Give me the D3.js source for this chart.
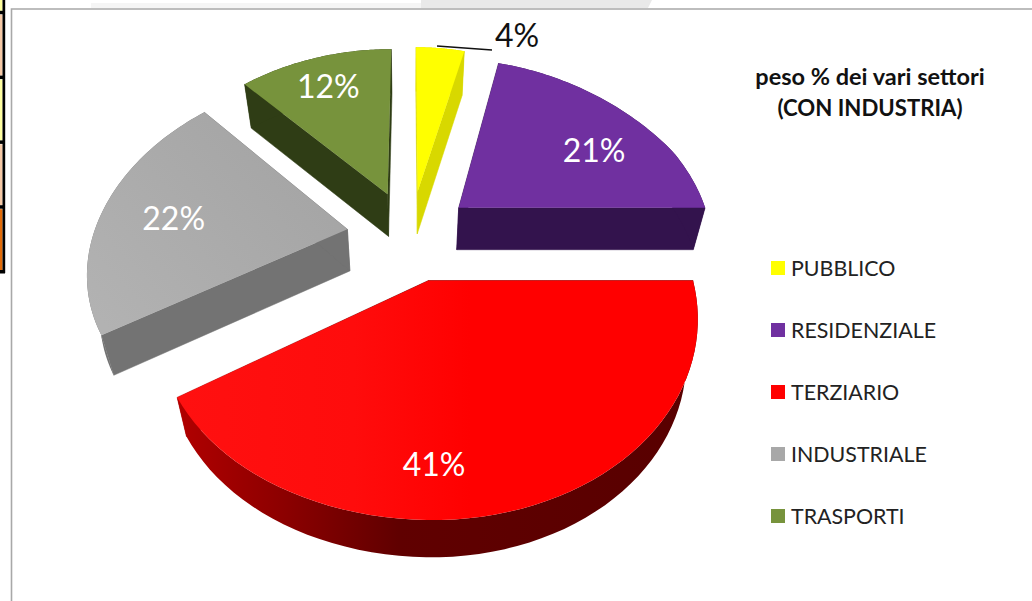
<!DOCTYPE html>
<html><head><meta charset="utf-8">
<script src="https://cdn.jsdelivr.net/npm/d3@7/dist/d3.min.js"></script>
<style>html,body{margin:0;padding:0;background:#fff;overflow:hidden}svg{display:block}text{font-family:Lato,"Open Sans",sans-serif}</style>
</head><body><svg id="c" width="1032" height="601"></svg>
<script>
const categories=["PUBBLICO","RESIDENZIALE","TERZIARIO","INDUSTRIALE","TRASPORTI"];
const values=[4,21,41,22,12];
const topColors=["#ffff00","#7030a0","#ff0000","#a8a8a8","#77933c"];
const wallColors=["#d8d800","#33134d","url(#redWall)","#737373","#2f3d15"];
const titleLines=["peso % dei vari settori","(CON INDUSTRIA)"];
const sideCells=["#ffff9c","#f6c9a6","#ffffa0","#f6c9a6","#e36c09"];

const svg=d3.select("#c");
const defs=svg.append("defs");
const g1=defs.append("linearGradient").attr("id","redWall").attr("gradientUnits","userSpaceOnUse").attr("x1",180).attr("x2",700).attr("y1",0).attr("y2",0);
[[0,"#b00000"],[.2,"#8c0000"],[.42,"#600000"],[1,"#580000"]].forEach(s=>g1.append("stop").attr("offset",s[0]).attr("stop-color",s[1]));
const g2=defs.append("linearGradient").attr("id","redTop").attr("gradientUnits","userSpaceOnUse").attr("x1",180).attr("x2",470).attr("y1",0).attr("y2",0);
[[0,"#ff1010"],[.6,"#ff0c0c"],[1,"#ff0000"]].forEach(s=>g2.append("stop").attr("offset",s[0]).attr("stop-color",s[1]));
const g3=defs.append("linearGradient").attr("id","grayTop").attr("gradientUnits","userSpaceOnUse").attr("x1",100).attr("y1",320).attr("x2",300).attr("y2",130);
[[0,"#b2b2b2"],[1,"#a4a4a4"]].forEach(s=>g3.append("stop").attr("offset",s[0]).attr("stop-color",s[1]));
const topFill=["#ffff00","#7030a0","url(#redTop)","url(#grayTop)","#77933c"];

// frame + stray bits of the neighbouring screenshot
svg.append("rect").attr("x",91).attr("y",3).attr("width",330).attr("height",5).attr("fill","#f5f5f5");
svg.append("path").attr("d","M421 0H652L648 8H421Z").attr("fill","#e9e9e9");
svg.append("path").attr("d","M11.5 601V9H1032").attr("fill","none").attr("stroke","#a8a8a8").attr("stroke-width",1.6);
const cellY=d3.scaleLinear().domain([0,5]).range([-52,272]);
sideCells.forEach((c,i)=>{
  const y0=i==0?0:cellY(i)+2, y1=cellY(i+1)-2;
  svg.append("rect").attr("x",0).attr("y",y0).attr("width",2.5).attr("height",y1-y0).attr("fill",c);
  svg.append("rect").attr("x",0).attr("y",y1).attr("width",5).attr("height",3.5).attr("fill","#000");
});
svg.append("rect").attr("x",2.5).attr("y",0).attr("width",2.7).attr("height",273).attr("fill","#000");

// perspective projection of the pie plane
const cx=410, cy=235, a=254, b=182, ky=.168, kx=.2, e=.25;
const skew=(u,v)=>u<=0?1:(v<0?1+.035*v:(v>.5?1-.07*(v-.5):1));
const project=(u,v)=>[cx+a*u*skew(u,v)/(1+kx*v), cy-b*v/(1+ky*v)];
const drop=p=>[cx+(p[0]-cx)*.96, cy+(p[1]-cy)*.985+41.5];

const arcs=d3.pie().sort(null).value(d=>d).startAngle(0).endAngle(2*Math.PI)(values);
const order=[0,4,1,3,2];
const line=d3.line();
order.forEach(i=>{
  const d=arcs[i], mid=(d.startAngle+d.endAngle)/2;
  const ou=e*Math.sin(mid), ov=e*Math.cos(mid);
  const rim=d3.range(0,61).map(j=>{const t=d.startAngle+(d.endAngle-d.startAngle)*j/60;return project(ou+Math.sin(t),ov+Math.cos(t));});
  const apex=project(ou,ov);
  const outline=[apex,...rim];
  const g=svg.append("g").attr("class","slice");
  const wall=(p,q)=>line([p,q,drop(q),drop(p)])+"Z";
  g.append("path").attr("d",wall(apex,rim[0])).attr("fill",wallColors[i]).attr("stroke",wallColors[i]).attr("stroke-width",.5);
  g.append("path").attr("d",wall(apex,rim[60])).attr("fill",wallColors[i]).attr("stroke",wallColors[i]).attr("stroke-width",.5);
  g.append("path").attr("d",line([...rim,...rim.map(drop).reverse()])+"Z").attr("fill",wallColors[i]);
  g.append("path").attr("d",line(outline)+"Z").attr("fill",topFill[i]);
});

// data labels
const labelFmt=v=>v+"%";
const labelPos=[null,[.6,.347],[.008,-.802],[-.699,.058],[-.29,.71]];
arcs.forEach((d,i)=>{
  const mid=(d.startAngle+d.endAngle)/2;
  const ou=e*Math.sin(mid), ov=e*Math.cos(mid);
  if(i===0){
    svg.append("line").attr("x1",437).attr("y1",46).attr("x2",492).attr("y2",50).attr("stroke","#111").attr("stroke-width",1.5);
    svg.append("text").attr("x",517).attr("y",47).attr("text-anchor","middle").attr("font-size",32).attr("fill","#111").text(labelFmt(values[i]));
    return;
  }
  const p=project(ou+labelPos[i][0],ov+labelPos[i][1]);
  svg.append("text").attr("x",p[0]).attr("y",p[1]+11).attr("text-anchor","middle").attr("font-size",32).attr("fill","#fff").text(labelFmt(values[i]));
});

// title
const titleSizes=[23.5,22.2];
titleLines.forEach((t,i)=>svg.append("text").attr("x",870).attr("y",85+i*30.5).attr("text-anchor","middle").attr("font-size",titleSizes[i]).attr("font-weight",700).attr("fill","#111").text(t));

// legend
const ly=d3.scalePoint().domain(categories).range([268,516]);
categories.forEach((c,i)=>{
  svg.append("rect").attr("x",771).attr("y",ly(c)-7).attr("width",14).attr("height",14).attr("fill",topColors[i]);
  svg.append("text").attr("x",791).attr("y",ly(c)+8).attr("font-size",21.4).attr("fill","#222").text(c);
});
</script></body></html>
